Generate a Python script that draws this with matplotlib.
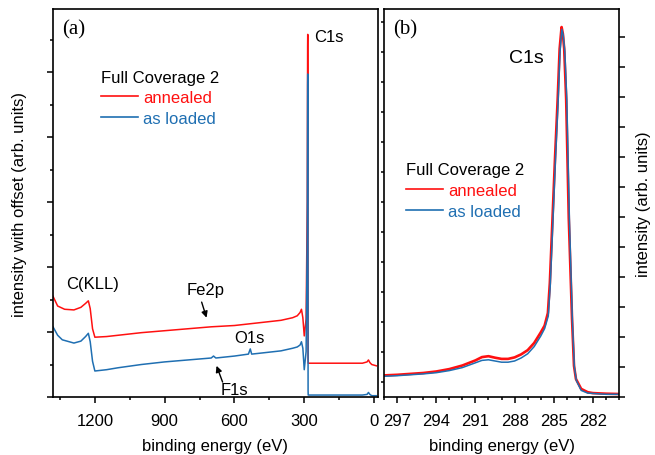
"""XPS survey and C1s detail spectra, annealed vs as loaded."""

import matplotlib.pyplot as plt
from matplotlib.ticker import MultipleLocator, NullFormatter

# survey scan (a), binding energy in eV, intensity with offset
survey_energy_annealed = [
    1380, 1360, 1330, 1290, 1260, 1240, 1228, 1220, 1210, 1200,
    1150, 1100, 1000, 900, 800, 700, 600, 500, 400, 350,
    330, 318, 312, 306, 300, 292, 287, 285.5, 285, 284.5,
    283.5, 283, 270, 200, 100, 50, 30, 24, 18, 10, 0, -10,
]
survey_annealed = [
    1.55, 1.40, 1.35, 1.34, 1.38, 1.44, 1.48, 1.36, 1.05, 0.92,
    0.93, 0.95, 0.99, 1.02, 1.05, 1.08, 1.10, 1.14, 1.18, 1.22,
    1.25, 1.30, 1.35, 1.22, 0.94, 1.20, 3.00, 5.40, 5.58, 5.00,
    0.60, 0.52, 0.52, 0.52, 0.52, 0.52, 0.54, 0.57, 0.53, 0.50, 0.49, 0.48,
]

survey_energy_loaded = [
    1380, 1360, 1340, 1290, 1260, 1240, 1228, 1220, 1210, 1200,
    1150, 1100, 1000, 900, 800, 700, 690, 680, 600, 540,
    532, 526, 500, 400, 350, 330, 318, 312, 306, 300,
    292, 287, 285.5, 285, 284.5, 283.5, 283, 200, 50, 30,
    24, 18, 10, -10,
]
survey_loaded = [
    1.08, 0.95, 0.88, 0.83, 0.86, 0.93, 0.98, 0.85, 0.55, 0.40,
    0.42, 0.45, 0.50, 0.54, 0.57, 0.60, 0.63, 0.60, 0.63, 0.66,
    0.74, 0.66, 0.67, 0.71, 0.75, 0.77, 0.80, 0.85, 0.75, 0.42,
    0.70, 2.50, 4.80, 4.97, 4.60, 0.10, 0.03, 0.03, 0.03, 0.04,
    0.07, 0.04, 0.02, 0.02,
]

# C1s detail scan (b)
c1s_energy_annealed = [
    298, 297, 296, 295, 294, 293, 292, 291, 290.5, 290,
    289.5, 289, 288.5, 288, 287.5, 287, 286.5, 286, 285.7, 285.45,
    285.3, 285.1, 284.9, 284.7, 284.55, 284.4, 284.3, 284.2, 284.05, 283.85,
    283.6, 283.45, 283.3, 282.9, 282.4, 282, 281, 280,
]
c1s_annealed = [
    0.72, 0.74, 0.77, 0.80, 0.85, 0.93, 1.05, 1.22, 1.33, 1.36,
    1.31, 1.27, 1.27, 1.32, 1.42, 1.56, 1.80, 2.15, 2.38, 2.80,
    3.80, 5.90, 8.00, 9.93, 11.60, 12.33, 12.10, 11.60, 9.93, 5.96,
    2.60, 1.04, 0.60, 0.27, 0.16, 0.13, 0.11, 0.10,
]

c1s_energy_loaded = [
    298, 297, 296, 295, 294, 293, 292, 291, 290.5, 290,
    289.5, 289, 288.5, 288, 287.5, 287, 286.5, 286, 285.7, 285.42,
    285.27, 285.07, 284.87, 284.67, 284.52, 284.38, 284.27, 284.15, 284.0, 283.8,
    283.57, 283.42, 283.27, 282.9, 282.4, 281, 280,
]
c1s_loaded = [
    0.69, 0.71, 0.74, 0.77, 0.81, 0.88, 0.98, 1.14, 1.22, 1.24,
    1.20, 1.16, 1.16, 1.20, 1.30, 1.44, 1.68, 2.03, 2.28, 2.70,
    3.70, 5.80, 7.90, 9.80, 11.50, 12.25, 12.05, 11.50, 9.90, 5.90,
    2.50, 1.00, 0.55, 0.22, 0.13, 0.09, 0.09,
]

survey_ticks = [1200, 900, 600, 300, 0]

RED = "#ff1010"
BLUE = "#1f6fb2"

plt.rcParams["font.family"] = ["Liberation Sans", "DejaVu Sans"]
plt.rcParams["font.size"] = 12

figure = plt.figure(figsize=(6.55, 4.56), dpi=100)
axis_a = figure.add_axes([0.0809, 0.1272, 0.4962, 0.8508])
axis_b = figure.add_axes([0.5863, 0.1272, 0.3588, 0.8508])

for axis in (axis_a, axis_b):
    for spine in axis.spines.values():
        spine.set_linewidth(1.2)
    axis.tick_params(which="both", direction="out", width=1.1, labelsize=12)
    axis.tick_params(which="major", length=4.5)
    axis.tick_params(which="minor", length=2.5)
    axis.tick_params(axis="x", pad=7)
    axis.set_xlabel("binding energy (eV)", fontsize=12, labelpad=7)

# (a) survey
axis_a.plot(survey_energy_annealed, survey_annealed, color=RED, linewidth=1.1, label="annealed")
axis_a.plot(survey_energy_loaded, survey_loaded, color=BLUE, linewidth=1.1, label="as loaded")
axis_a.set_xlim(1380, -17)
axis_a.set_ylim(0, 5.97)
axis_a.set_xticks(survey_ticks)
axis_a.xaxis.set_minor_locator(MultipleLocator(150))
axis_a.yaxis.set_major_locator(MultipleLocator(1))
axis_a.yaxis.set_minor_locator(MultipleLocator(0.5))
axis_a.yaxis.set_major_formatter(NullFormatter())
axis_a.tick_params(top=False, right=False)
axis_a.set_ylabel("intensity with offset (arb. units)", fontsize=12, labelpad=11)

axis_a.text(0.028, 0.948, "(a)", transform=axis_a.transAxes, family="Liberation Serif",
            fontsize=15, va="center", ha="left")
axis_a.text(257, 5.55, "C1s", fontsize=12, ha="left", va="center")
axis_a.text(1210, 1.74, "C(KLL)", fontsize=12, ha="center", va="center")
axis_a.text(722, 1.66, "Fe2p", fontsize=12, ha="center", va="center")
axis_a.text(536, 0.92, "O1s", fontsize=12, ha="center", va="center")
axis_a.text(600, 0.12, "F1s", fontsize=12, ha="center", va="center")
arrow_style = dict(arrowstyle="-|>", color="black", lw=1, mutation_scale=9, shrinkA=0, shrinkB=0)
axis_a.annotate("", xy=(720, 1.22), xytext=(741, 1.46), arrowprops=arrow_style)
axis_a.annotate("", xy=(677, 0.48), xytext=(651, 0.23), arrowprops=arrow_style)

legend_a = axis_a.legend(
    title="Full Coverage 2", loc="upper left", bbox_to_anchor=(0.148, 0.843),
    frameon=False, labelcolor="linecolor", handlelength=2.2, handletextpad=0.3,
    borderpad=0, borderaxespad=0, labelspacing=0.32, alignment="left",
    fontsize=12, title_fontsize=12,
)

# (b) C1s detail
axis_b.plot(c1s_energy_annealed, c1s_annealed, color=RED, linewidth=1.9, label="annealed")
axis_b.plot(c1s_energy_loaded, c1s_loaded, color=BLUE, linewidth=1.1, label="as loaded")
axis_b.set_xlim(298, 280)
axis_b.set_ylim(0, 12.93)
axis_b.xaxis.set_major_locator(MultipleLocator(3))
axis_b.xaxis.set_minor_locator(MultipleLocator(1))
axis_b.yaxis.set_major_locator(MultipleLocator(1))
axis_b.yaxis.set_minor_locator(MultipleLocator(0.5))
axis_b.yaxis.set_major_formatter(NullFormatter())
axis_b.tick_params(axis="y", left=False, right=True)
axis_b.yaxis.set_label_position("right")
axis_b.set_ylabel("intensity (arb. units)", fontsize=12, labelpad=8)

axis_b.text(0.038, 0.948, "(b)", transform=axis_b.transAxes, family="Liberation Serif",
            fontsize=15, va="center", ha="left")
axis_b.text(288.46, 11.33, "C1s", fontsize=14, ha="left", va="center")

legend_b = axis_b.legend(
    title="Full Coverage 2", loc="upper left", bbox_to_anchor=(0.094, 0.606),
    frameon=False, labelcolor="linecolor", handlelength=2.2, handletextpad=0.3,
    borderpad=0, borderaxespad=0, labelspacing=0.36, alignment="left",
    fontsize=12, title_fontsize=12,
)
for legend in (legend_a, legend_b):
    for line in legend.get_lines():
        line.set_linewidth(1.2)

figure.savefig("out.png", dpi=100)
